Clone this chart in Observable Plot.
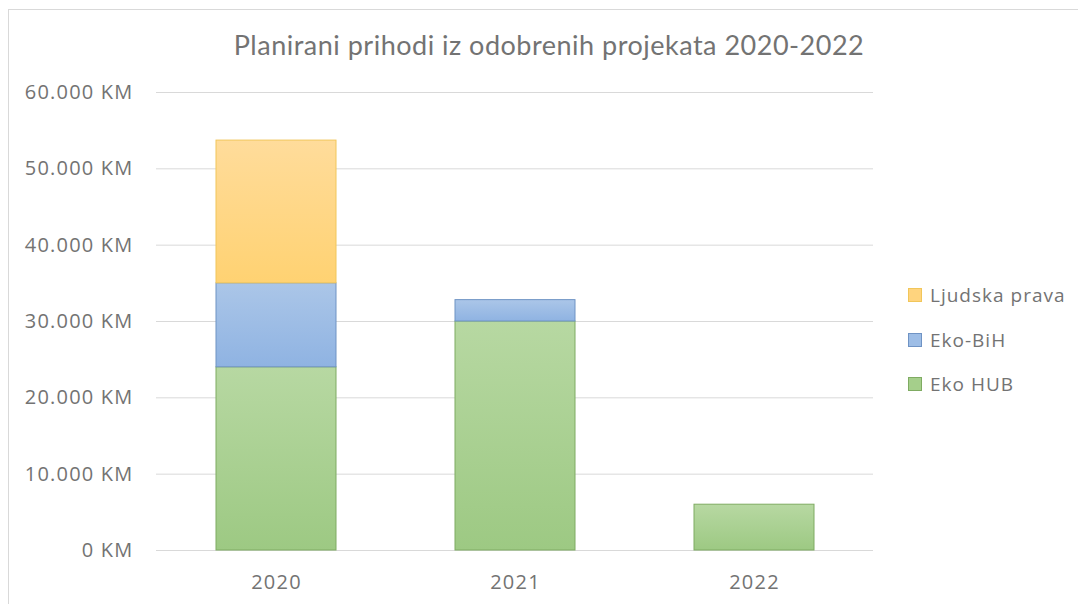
<!DOCTYPE html>
<html>
<head>
<meta charset="utf-8">
<script src="https://cdn.jsdelivr.net/npm/d3@7"></script>
<script src="https://cdn.jsdelivr.net/npm/@observablehq/plot@0.6"></script>
<style>
  body { margin: 0; background: #fff; font-family: "Open Sans", Lato, sans-serif; }
  #wrap { position: relative; width: 1078px; height: 604px; overflow: hidden; background: #fff; }
  #frame { position: absolute; left: 8px; top: 9px; width: 1200px; height: 800px; border: 1px solid #d9d9d9; box-sizing: border-box; }
  #title { position: absolute; top: 29px; left: 549px; transform: translateX(-50%); white-space: nowrap;
           font-family: Lato, sans-serif; font-size: 27px; letter-spacing: 0.5px; color: #737373; line-height: 32px; }
  #chart { position: absolute; top: 70px; left: 0; }
  #legend { position: absolute; left: 908px; top: 284px; font-size: 19px; letter-spacing: 1px; color: #737373; }
  .item { display: flex; align-items: center; height: 22px; margin-bottom: 22.5px; }
  .sw { width: 12px; height: 12px; border: 1px solid; margin-right: 8px; flex: none; }
</style>
</head>
<body>
<div id="wrap">
  <div id="frame"></div>
  <div id="title">Planirani prihodi iz odobrenih projekata 2020-2022</div>
  <div id="chart"></div>
  <div id="legend"></div>
</div>
<script>
// Data
const years = ["2020", "2021", "2022"];
const seriesNames = ["Eko HUB", "Eko-BiH", "Ljudska prava"];
const ekoHub = [24000, 30000, 6000];
const ekoBih = [11000, 2800, 0];
const ljudskaPrava = [18700, 0, 0];
const yTicks = [0, 10000, 20000, 30000, 40000, 50000, 60000];

const seriesValues = {"Eko HUB": ekoHub, "Eko-BiH": ekoBih, "Ljudska prava": ljudskaPrava};
const gradients = {
  "Eko HUB": ["gHub", "#b7d8a2", "#9dc983"],
  "Eko-BiH": ["gBih", "#abc6e8", "#8fb3e2"],
  "Ljudska prava": ["gLj", "#ffdc9b", "#ffd272"]
};
const strokes = {"Eko HUB": "#7fab62", "Eko-BiH": "#6f93c4", "Ljudska prava": "#f1c65a"};
const swatchFill = {"Eko HUB": "#a5cf8b", "Eko-BiH": "#9dbde6", "Ljudska prava": "#ffd47e"};

const rows = [];
years.forEach((y, i) => {
  seriesNames.forEach(s => {
    const v = seriesValues[s][i];
    if (v > 0) rows.push({year: y, series: s, value: v});
  });
});

const fmt = d => (d === 0 ? "0" : d3.format(",")(d).replace(/,/g, ".")) + " KM";

const plot = Plot.plot({
  width: 1078,
  height: 534,
  marginTop: 22,
  marginBottom: 54,
  marginLeft: 156,
  marginRight: 205,
  style: {fontFamily: "'Open Sans', Lato, sans-serif", fontSize: "20px", letterSpacing: "1.2px", color: "#737373", background: "transparent"},
  x: {domain: years, paddingInner: 0.5, paddingOuter: 0.25, label: null},
  y: {domain: [0, 60000], label: null},
  color: {domain: seriesNames, range: seriesNames.map(s => `url(#${gradients[s][0]})`)},
  marks: [
    Plot.gridY(yTicks, {stroke: "#d9d9d9", strokeOpacity: 1, strokeWidth: 1}),
    Plot.axisY(yTicks, {tickSize: 0, tickPadding: 23, tickFormat: fmt, fontSize: 20, fill: "#737373", label: null}),
    Plot.axisX({tickSize: 0, tickPadding: 24, fontSize: 20, fill: "#737373", label: null}),
    Plot.barY(rows, Plot.stackY({
      x: "year", y: "value", fill: "series",
      stroke: {value: d => strokes[d.series], scale: null},
      strokeWidth: 1, order: null
    }))
  ]
});

// gradient defs
const ns = "http://www.w3.org/2000/svg";
const defs = document.createElementNS(ns, "defs");
seriesNames.forEach(s => {
  const [id, top, bottom] = gradients[s];
  const lg = document.createElementNS(ns, "linearGradient");
  lg.setAttribute("id", id);
  lg.setAttribute("x1", "0"); lg.setAttribute("y1", "0");
  lg.setAttribute("x2", "0"); lg.setAttribute("y2", "1");
  [[0, top], [1, bottom]].forEach(([o, c]) => {
    const st = document.createElementNS(ns, "stop");
    st.setAttribute("offset", o);
    st.setAttribute("stop-color", c);
    lg.appendChild(st);
  });
  defs.appendChild(lg);
});
plot.insertBefore(defs, plot.firstChild);
document.getElementById("chart").appendChild(plot);

// legend (top to bottom: reverse stack order)
const legend = document.getElementById("legend");
[...seriesNames].reverse().forEach(s => {
  const item = document.createElement("div");
  item.className = "item";
  const sw = document.createElement("span");
  sw.className = "sw";
  sw.style.background = swatchFill[s];
  sw.style.borderColor = strokes[s];
  const t = document.createElement("span");
  t.textContent = s;
  item.appendChild(sw); item.appendChild(t);
  legend.appendChild(item);
});
</script>
</body>
</html>
